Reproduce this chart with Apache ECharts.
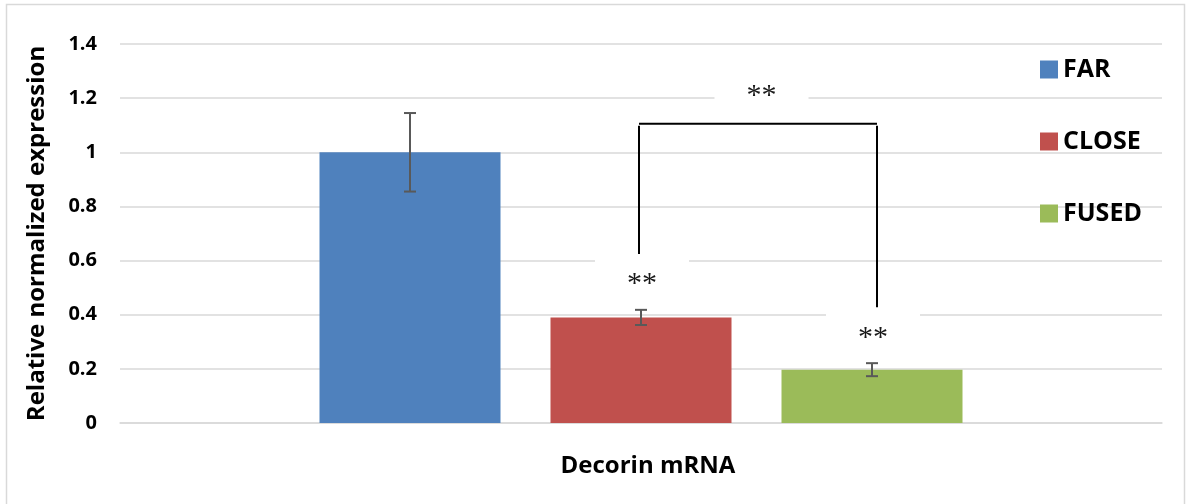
<!DOCTYPE html>
<html>
<head>
<meta charset="utf-8">
<script src="https://cdn.jsdelivr.net/npm/echarts@6/dist/echarts.min.js"></script>
<style>
  html, body { margin: 0; padding: 0; background: #fff; }
  #chart { width: 1189px; height: 504px; }
</style>
</head>
<body>
<div id="chart"></div>
<script>
var categories = ['Decorin mRNA'];
var seriesNames = ['FAR', 'CLOSE', 'FUSED'];
var seriesColors = ['#4f81bd', '#c0504d', '#9bbb59'];
var means = [1.0, 0.39, 0.197];
var errors = [0.145, 0.028, 0.024];
var yTicks = { min: 0, max: 1.4, interval: 0.2 };

// significance marks: [series index, y value, extra shift] and the bracket
var starMarks = [[1, 0.536, 0], [2, 0.336, 0], [1.5, 1.23, 12]];
var bracketY = 1.105;
var bracketEnds = [0.624, 0.428];

var barW = 181;
var barGapPx = 50;

function barOffset(i) {
    return (i - 1) * (barW + barGapPx);
}

var chartDom = document.getElementById('chart');
var myChart = echarts.init(chartDom);
var option;

var barSeries = seriesNames.map(function (name, i) {
    return {
        name: name,
        type: 'bar',
        barWidth: barW,
        barGap: (barGapPx / barW * 100) + '%',
        itemStyle: { color: seriesColors[i] },
        data: [means[i]],
        z: 2
    };
});

// error bars
var errData = means.map(function (m, i) {
    return [0, m - errors[i], m + errors[i], i];
});

barSeries.push({
    type: 'custom',
    z: 5,
    data: errData,
    renderItem: function (params, api) {
        var c = api.coord([api.value(0), api.value(1)]);
        var t = api.coord([api.value(0), api.value(2)]);
        var x = c[0] + barOffset(api.value(3));
        var st = { stroke: '#595959', lineWidth: 2 };
        return {
            type: 'group',
            children: [
                { type: 'line', shape: { x1: x, y1: c[1], x2: x, y2: t[1] }, style: st },
                { type: 'line', shape: { x1: x - 6, y1: c[1], x2: x + 6, y2: c[1] }, style: st },
                { type: 'line', shape: { x1: x - 6, y1: t[1], x2: x + 6, y2: t[1] }, style: st }
            ]
        };
    }
});

// bracket between CLOSE and FUSED
barSeries.push({
    type: 'custom',
    z: 6,
    data: [[0, bracketY, bracketEnds[0], bracketEnds[1]]],
    renderItem: function (params, api) {
        var top = api.coord([0, api.value(1)]);
        var l = api.coord([0, api.value(2)]);
        var r = api.coord([0, api.value(3)]);
        var xl = top[0] + barOffset(1) - 2;
        var xr = top[0] + barOffset(2) + 5;
        var st = { stroke: '#000', lineWidth: 2 };
        return {
            type: 'group',
            children: [
                { type: 'line', shape: { x1: xl, y1: top[1], x2: xr, y2: top[1] }, style: st },
                { type: 'line', shape: { x1: xl, y1: top[1] + 2, x2: xl, y2: l[1] }, style: st },
                { type: 'line', shape: { x1: xr, y1: top[1] + 2, x2: xr, y2: r[1] }, style: st }
            ]
        };
    }
});

// "**" labels sitting in white boxes
barSeries.push({
    type: 'custom',
    z: 4,
    data: starMarks,
    renderItem: function (params, api) {
        var p = api.coord([0, api.value(1)]);
        var x = p[0] + barOffset(api.value(0)) + 1 + api.value(2) / 3;
        var y = p[1];
        return {
            type: 'group',
            children: [
                { type: 'rect', shape: { x: x - 47, y: y - 22, width: 94, height: 44 }, style: { fill: '#fff' } },
                {
                    type: 'text',
                    style: {
                        x: x, y: y + 6, text: '**', align: 'center', verticalAlign: 'middle',
                        font: '30px "Liberation Serif"', fill: '#1a1a1a'
                    }
                }
            ]
        };
    }
});

option = {
    animation: false,
    backgroundColor: '#fff',
    graphic: [{
        type: 'rect',
        shape: { x: 6.5, y: 4.5, width: 1178, height: 520 },
        style: { fill: 'none', stroke: '#d9d9d9', lineWidth: 1.5 },
        silent: true
    }],
    legend: {
        data: seriesNames,
        orient: 'vertical',
        left: 1035,
        top: 52,
        itemWidth: 18,
        itemHeight: 18,
        itemGap: 47,
        icon: 'rect',
        textStyle: { fontFamily: 'Open Sans', fontWeight: 'bold', fontSize: 25, color: '#000' }
    },
    grid: {
        left: 120,
        right: 27,
        top: 44,
        bottom: 81,
        containLabel: false
    },
    xAxis: {
        type: 'category',
        data: categories,
        axisTick: { show: false },
        axisLine: { lineStyle: { color: '#d9d9d9', width: 1.5 } },
        axisLabel: {
            margin: 31,
            padding: [0, 0, 0, 14],
            fontFamily: 'Open Sans', fontWeight: 'bold', fontSize: 24, color: '#000'
        }
    },
    yAxis: {
        type: 'value',
        min: yTicks.min,
        max: yTicks.max,
        interval: yTicks.interval,
        name: 'Relative normalized expression',
        nameLocation: 'middle',
        nameGap: 71,
        nameTextStyle: { fontFamily: 'Open Sans', fontWeight: 'bold', fontSize: 24, color: '#000' },
        axisLine: { show: false },
        axisTick: { show: false },
        splitLine: { lineStyle: { color: '#d9d9d9', width: 1.5 } },
        axisLabel: {
            margin: 23,
            fontFamily: 'Open Sans', fontWeight: 'bold', fontSize: 20, color: '#000'
        }
    },
    series: barSeries
};

option && myChart.setOption(option);
</script>
</body>
</html>
